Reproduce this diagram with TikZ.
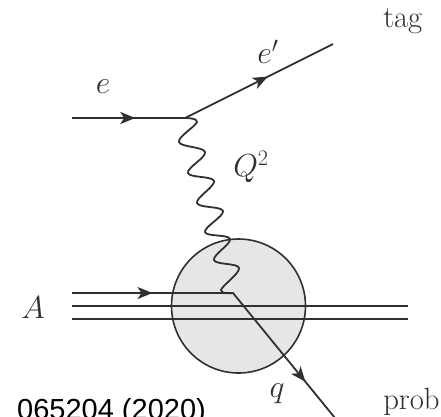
\documentclass[tikz,border=0pt]{standalone}
\usepackage{fontspec}
\newfontfamily\citefont{Liberation Sans}
\usetikzlibrary{arrows.meta,decorations.markings}
\definecolor{ink}{HTML}{303032}
\definecolor{blob}{HTML}{E5E6E8}
\tikzset{
  line/.style={draw=ink,line width=1.8pt},
  thickline/.style={draw=ink,line width=2.2pt},
  markat/.style={postaction={decorate,decoration={markings,mark=at position #1 with {\arrow[ink]{Stealth[length=15pt,width=12pt,inset=4pt]}}}}},
  lab/.style={text=ink,inner sep=0pt,scale=1.28,font=\fontsize{24}{26}\selectfont},
  wave/.style={draw=ink,line width=1.8pt,line cap=round,line join=round}
}
\begin{document}
\begin{tikzpicture}[x=1pt,y=-1pt]
\useasboundingbox (0,0) rectangle (441,416);
\clip (0,0) rectangle (441,416);
\coordinate (ein) at (72,118);
\coordinate (vtop) at (185,118);
\coordinate (eout) at (333,44);
\coordinate (ain) at (72,293);
\coordinate (vbot) at (233,293);
\coordinate (qout) at (335,418);
\coordinate (mL) at (72,306);
\coordinate (mR) at (408,306);
\coordinate (bL) at (72,319);
\coordinate (bR) at (408,319);
\node[circle,draw=ink,line width=1.6pt,fill=blob,minimum size=134pt,inner sep=0pt] (nucleus) at (238.5,306) {};
\draw[thickline,markat=0.56] (ein) -- (vtop);
\draw[line,markat=0.56] (vtop) -- (eout);
\draw[line,markat=0.5] (ain) -- (vbot);
\draw[thickline] (mL) -- (mR);
\draw[thickline] (bL) -- (bR);
\draw[line,markat=0.71] (vbot) -- (qout);
\draw[wave] plot[smooth,tension=0.62] coordinates {(vtop) (197,122) (179,142) (205,152) (188,173) (214,181) (197,203) (223,211) (205,232) (230,239) (214,260) (239,268) (221,290) (vbot)};
\node[lab] (le) at (103,87) {$e$};
\node[lab] (lep) at (268,52) {$e'$};
\node[lab] (lq2) at (251,167) {$Q^2$};
\node[lab] (lA) at (33,308) {$A$};
\node[lab] (lq) at (277,394) {$q$};
\node[lab,anchor=base west] (ltag) at (383,27) {tag};
\node[lab,anchor=base west] (lprob) at (383,409) {prob};
\node[anchor=base west,inner sep=0pt,text=black,font=\citefont\fontsize{29}{31}\selectfont] (cite) at (17,419) {065204 (2020)};
\end{tikzpicture}
\end{document}
